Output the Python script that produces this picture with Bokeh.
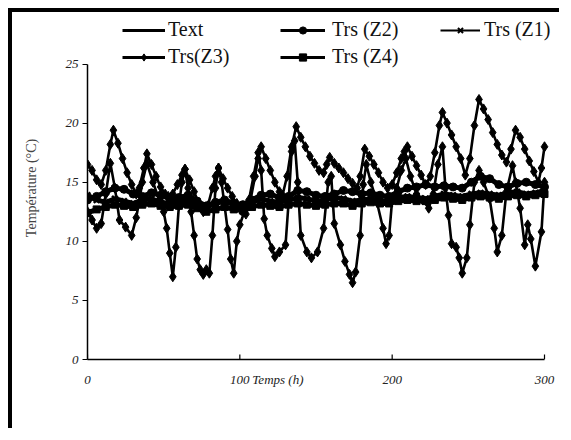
from bokeh.plotting import figure
from bokeh.models import Legend, LegendItem, Range1d, FixedTicker
from bokeh.embed import file_html
from bokeh.resources import INLINE

# ---------------- data ----------------
x_ticks = [0, 100, 200, 300]
y_ticks = [0, 5, 10, 15, 20, 25]
x_title = "Temps (h)"
x_title_pos = 125

t_text = [0, 3, 6, 9, 12, 15, 18, 21, 25, 29,
          32, 36, 39, 43, 47, 50, 52, 54, 56, 58,
          60, 62, 64, 66, 68, 70, 72, 74, 76, 78,
          80, 82, 84, 86, 88, 90, 92, 94, 96, 98,
          100, 103, 106, 109, 112, 114, 116, 118, 121, 123,
          126, 130, 132, 134, 136, 138, 140, 144, 147, 151,
          155, 158, 160, 162, 166, 169, 172, 174, 176, 179,
          181, 183, 186, 190, 194, 196, 198, 200, 203, 206,
          209, 212, 216, 220, 224, 227, 230, 233, 235, 237,
          239, 242, 244, 246, 249, 251, 254, 257, 260, 264,
          267, 269, 272, 275, 279, 281, 284, 287, 289, 291,
          294, 298, 300]
text_vals = [12.5, 11.8, 11.1, 11.5, 14.0, 16.6, 14.5, 11.8, 11.2, 10.5,
             12.0, 15.0, 16.6, 15.0, 13.5, 12.5, 11.1, 9.0, 7.0, 9.5,
             13.0, 15.0, 16.1, 14.5, 12.5, 10.5, 8.5, 7.6, 7.2, 7.6,
             7.3, 10.5, 14.5, 16.2, 15.0, 13.0, 11.0, 8.5, 7.3, 10.0,
             11.4, 12.5, 13.5, 15.5, 17.5, 16.0, 11.9, 10.5, 9.4, 8.7,
             9.1, 9.7, 13.3, 17.6, 18.5, 15.0, 10.5, 9.1, 8.6, 9.1,
             11.1, 15.0, 15.5, 11.5, 9.7, 8.3, 7.2, 6.5, 7.4, 10.5,
             14.8, 16.5, 15.0, 13.3, 11.1, 9.8, 10.5, 13.5, 14.5, 16.0,
             17.0, 15.5, 14.0, 13.5, 12.8, 14.0, 16.5, 18.0, 14.5, 12.2,
             9.8, 9.5, 8.6, 7.3, 8.6, 11.4, 15.0, 16.0, 15.0, 13.6,
             11.1, 9.1, 10.5, 14.2, 16.4, 15.0, 12.8, 9.7, 11.4, 10.2,
             7.9, 10.8, 15.0]

t_z3 = [0, 3, 6, 9, 12, 15, 17, 20, 23, 26,
        29, 32, 34, 37, 39, 42, 45, 48, 51, 53,
        56, 59, 62, 64, 67, 70, 73, 76, 79, 82,
        84, 86, 89, 92, 95, 98, 101, 104, 107, 110,
        112, 114, 117, 120, 123, 126, 128, 131, 134, 137,
        140, 143, 146, 149, 152, 155, 157, 159, 162, 165,
        168, 171, 174, 177, 179, 182, 185, 188, 191, 194,
        197, 200, 203, 206, 208, 210, 213, 216, 219, 222,
        225, 228, 231, 233, 236, 239, 242, 245, 248, 251,
        254, 257, 260, 263, 266, 269, 272, 275, 278, 281,
        284, 287, 290, 293, 296, 298, 300]
z3_vals = [16.5, 16.0, 15.2, 14.8, 16.0, 18.2, 19.4, 18.3, 17.0, 15.8,
           14.8, 14.0, 14.5, 16.2, 17.4, 16.5, 15.5, 14.6, 14.0, 13.8,
           14.0, 14.8, 15.6, 16.1, 15.2, 14.2, 13.2, 12.5, 13.0, 14.5,
           15.5, 16.2, 15.3, 14.5, 13.8, 13.2, 12.6, 12.3, 13.5, 15.5,
           17.0, 18.0, 17.0, 16.0, 15.0, 14.2, 13.9, 15.5, 18.0, 19.7,
           18.8, 18.0, 17.2, 16.6, 16.0, 15.8, 16.5, 17.1, 16.6, 16.2,
           15.8, 15.3, 14.9, 14.5, 15.5, 17.8, 17.2, 16.5, 15.8, 15.0,
           14.5, 14.8, 15.8, 17.0, 17.6, 18.0, 17.2, 16.4, 15.6, 14.8,
           15.5, 17.5, 19.8, 20.9, 20.0, 19.0, 18.0, 17.0, 15.6, 17.0,
           19.8, 22.0, 21.2, 20.3, 19.2, 18.2, 17.3, 16.7, 17.8, 19.4,
           18.8, 17.8, 16.8, 15.9, 15.0, 16.2, 18.0]

t_zone = list(range(0, 301, 6))
z1_vals = [13.9, 13.5, 13.3, 13.6, 13.4, 13.2, 13.5, 13.6, 13.3, 13.2,
           13.4, 13.5, 13.1, 12.9, 13.2, 13.4, 13.1, 13.0, 13.3, 13.6,
           13.4, 13.3, 13.5, 13.7, 13.6, 13.4, 13.5, 13.7, 13.6, 13.4,
           13.5, 13.6, 13.4, 13.5, 13.7, 13.8, 13.7, 13.6, 13.8, 14.0,
           13.9, 13.8, 14.0, 14.1, 14.0, 13.9, 14.1, 14.2, 14.0, 14.1,
           14.3]
z2_vals = [13.5, 13.8, 14.2, 14.5, 14.4, 14.0, 13.8, 14.1, 13.9, 13.6,
           13.7, 13.9, 13.4, 13.0, 13.3, 13.5, 13.2, 13.1, 13.5, 13.9,
           14.0, 13.7, 13.8, 14.3, 14.2, 13.9, 13.8, 14.0, 14.3, 14.2,
           14.0, 14.1, 13.9, 13.8, 14.2, 14.5, 14.6, 14.8, 14.6, 14.7,
           14.6, 14.5, 15.0, 15.5, 15.3, 14.8, 14.6, 14.9, 15.0, 14.8,
           14.6]
z4_vals = [12.4, 12.7, 12.9, 13.1, 13.0, 12.9, 13.1, 13.2, 13.0, 12.9,
           13.0, 13.1, 12.8, 12.5, 12.7, 12.9, 12.7, 12.6, 12.9, 13.1,
           13.0, 12.9, 13.1, 13.2, 13.1, 13.0, 13.1, 13.2, 13.2, 13.0,
           13.2, 13.3, 13.2, 13.2, 13.4, 13.5, 13.4, 13.4, 13.5, 13.7,
           13.6, 13.5, 13.7, 13.8, 13.7, 13.6, 13.8, 13.9, 13.8, 13.9,
           14.0]

SERIF = "Liberation Serif"

# frame spans page y=16..359 (value 25 at y~63.5) and x=87..560 (300 at x~544)
Y_TOP = 29.02
X_END = 310.5

p = figure(width=551, height=420, output_backend="svg", toolbar_location=None,
           x_range=Range1d(0, X_END), y_range=Range1d(0, Y_TOP),
           min_border_left=75, min_border_right=3,
           min_border_top=4, min_border_bottom=73)
p.styles = {"border-left": "4px solid black", "border-top": "4px solid black",
            "margin-left": "8px", "margin-top": "8px"}
p.background_fill_color = "white"
p.border_fill_color = "white"
p.outline_line_color = None
p.grid.visible = False

# series
p.line(t_zone, z4_vals, color="black", line_width=5)
p.scatter(t_zone, z4_vals, marker="square", size=7, color="black")
p.line(t_zone, z1_vals, color="black", line_width=5)
p.scatter(t_zone, z1_vals, marker="x", size=8, color="black", line_width=2.5)
p.line(t_zone, z2_vals, color="black", line_width=5)
p.scatter(t_zone, z2_vals, marker="circle", size=8, color="black")
p.line(t_z3, z3_vals, color="black", line_width=2.6)
p.scatter(t_z3, z3_vals, marker="diamond", size=10, color="black")
p.line(t_text, text_vals, color="black", line_width=2.6)
p.scatter(t_text, text_vals, marker="diamond", size=10, color="black")

# axes
for ax in (p.xaxis, p.yaxis):
    ax.axis_line_color = "black"
    ax.axis_line_width = 1.5
    ax.major_tick_line_color = "black"
    ax.major_tick_line_width = 1.2
    ax.minor_tick_line_color = None
    ax.major_label_text_font = SERIF
    ax.major_label_text_font_style = "italic"
    ax.major_label_text_font_size = "13px"
    ax.major_label_text_color = "#222222"

# x axis: tick labels plus the axis title placed right after "100"
p.xaxis.ticker = FixedTicker(ticks=x_ticks + [x_title_pos])
p.xaxis.major_label_overrides = {x_title_pos: x_title}
p.xaxis.bounds = (0, 300)
p.xaxis.major_tick_in = 0
p.xaxis.major_tick_out = 0
p.xaxis.major_label_standoff = 12
# inward (upward) tick marks on the x axis
p.segment(x0=x_ticks, y0=[0] * len(x_ticks), x1=x_ticks,
          y1=[0.42] * len(x_ticks), color="black", line_width=1.2)

p.yaxis.ticker = FixedTicker(ticks=y_ticks)
p.yaxis.bounds = (0, 25)
p.yaxis.major_tick_in = 0
p.yaxis.major_tick_out = 5
p.yaxis.major_label_standoff = 4
p.yaxis.axis_label = "Température (°C)"
p.yaxis.axis_label_text_font = SERIF
p.yaxis.axis_label_text_font_style = "normal"
p.yaxis.axis_label_text_font_size = "14px"
p.yaxis.axis_label_standoff = 24


# legend (five single-item legends placed like the original);
# the sample renderers hold one point far outside the visible range
def leg_item(label, marker, msize, lw, mlw, x, y, gw, standoff, angle=0.0):
    lr = p.line([-100, -90], [-10, -10], color="black", line_width=lw)
    sr = p.scatter([-100], [-10], marker=marker, size=msize, color="black",
                   line_width=mlw, angle=angle)
    lg = Legend(items=[LegendItem(label=label, renderers=[lr, sr])],
                location=(x, y), orientation="horizontal",
                glyph_width=gw, glyph_height=18, label_height=18,
                label_standoff=standoff, padding=0, margin=0, spacing=0,
                label_text_font=SERIF, label_text_font_size="20px",
                label_text_color="#111111",
                border_line_color=None, background_fill_alpha=0)
    p.add_layout(lg)


leg_item("Text", "dash", 7, 3, 1.5, 35, 318, 43, 3, angle=1.5708)
leg_item("Trs (Z2)", "circle", 6, 3, 1, 193, 318, 45, 7)
leg_item("Trs (Z1)", "x", 6, 2, 2, 353, 318, 40, 4)
leg_item("Trs(Z3)", "diamond", 6, 3, 1, 35, 291, 43, 3)
leg_item("Trs (Z4)", "square", 5, 3, 1, 193, 291, 45, 7)

open("out.html", "w").write(file_html(p, INLINE))
